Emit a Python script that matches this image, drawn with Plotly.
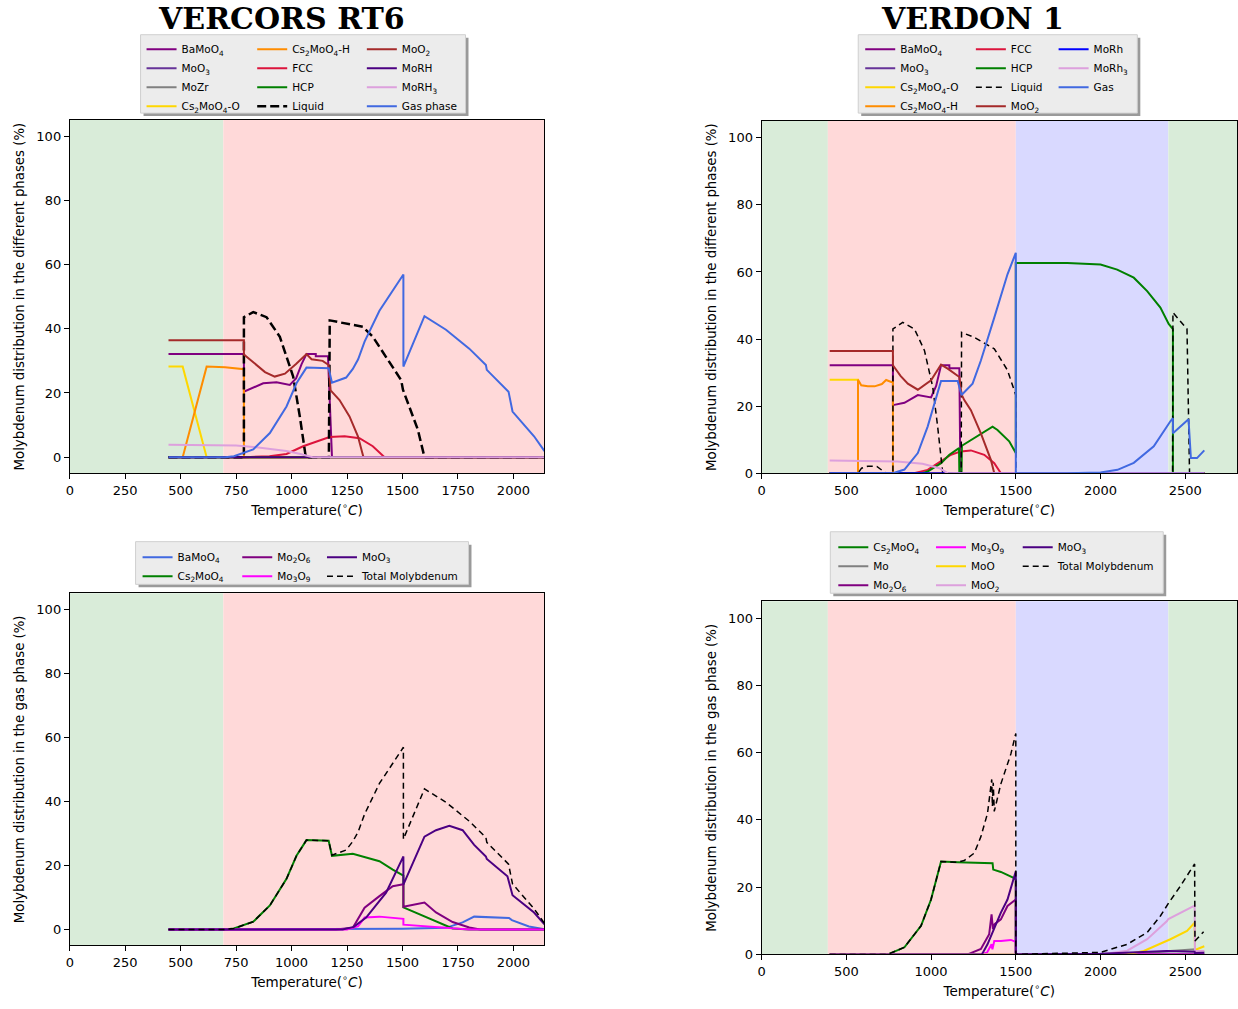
import plotly.graph_objects as go

W, H = 1238, 1009

# ---------------- VERCORS RT6 : phases ----------------
rt6_T_BaMoO4 = [445, 785, 785, 830, 872, 932, 992, 1020, 1045, 1067, 1109, 1109, 1164, 1182, 2140]
rt6_BaMoO4 = [32.1, 32.1, 20.4, 21.8, 23.0, 23.3, 22.5, 24.5, 29.0, 32.1, 32.1, 31.4, 31.4, 0, 0]
rt6_T_zero = [445, 2140]
rt6_MoO3 = [0, 0]
rt6_MoZr = [0, 0]
rt6_HCP = [0, 0]
rt6_MoRH = [0, 0]
rt6_T_Cs2MoO4_O = [445, 509, 617, 2140]
rt6_Cs2MoO4_O = [28.2, 28.2, 0, 0]
rt6_T_Cs2MoO4_H = [445, 509, 617, 700, 785, 785, 2140]
rt6_Cs2MoO4_H = [0, 0, 28.2, 28.0, 27.4, 0, 0]
rt6_T_FCC = [445, 785, 900, 977, 1052, 1120, 1171, 1239, 1306, 1366, 1419, 2140]
rt6_FCC = [0, 0, 0.3, 1.0, 3.4, 5.0, 6.3, 6.5, 5.9, 3.4, 0, 0]
rt6_T_Liquid = [445, 785, 785, 827, 887, 947, 1007, 1037, 1064, 1168, 1172, 1250, 1321, 1366, 1426,
                1494, 1502, 1531, 1569, 1599, 2140]
rt6_Liquid = [0, 0, 43.6, 45.2, 43.6, 37.5, 25.1, 12.7, 0, 0, 42.6, 41.5, 40.6, 37.5, 31.3,
              24.0, 21.0, 15.8, 8.6, 0, 0]
rt6_T_MoO2 = [445, 785, 785, 830, 880, 924, 970, 1020, 1067, 1090, 1140, 1167, 1176, 1216, 1261,
              1299, 1324, 2140]
rt6_MoO2 = [36.4, 36.4, 32.0, 29.5, 26.5, 25.1, 26.0, 29.0, 32.1, 30.5, 30.0, 28.7, 20.8, 17.8, 12.7,
            6.5, 0, 0]
rt6_T_MoRH3 = [445, 600, 750, 850, 977, 1040, 1095, 2140]
rt6_MoRH3 = [3.9, 3.85, 3.6, 3.0, 1.9, 1.0, 0, 0]
rt6_T_Gas = [445, 700, 740, 827, 902, 977, 1022, 1067, 1167, 1182, 1246, 1276, 1300, 1329, 1396, 1456,
             1504, 1504, 1599, 1696, 1801, 1876, 1880, 1978, 1996, 2093, 2140]
rt6_Gas = [0, 0, 0.3, 2.4, 7.5, 15.8, 23.0, 27.9, 27.7, 23.2, 24.8, 27.5, 30.5, 36.0, 45.6, 52.0,
           56.9, 28.2, 43.9, 39.7, 33.8, 28.7, 27.2, 20.4, 14.2, 6.5, 1.9]

# ---------------- VERCORS RT6 : gas phase ----------------
rt6g_T_BaMoO4 = [445, 1300, 1500, 1696, 1771, 1823, 1980, 1993, 2070, 2140]
rt6g_BaMoO4 = [0, 0, 0.2, 0.5, 2.2, 4.0, 3.6, 2.9, 0.9, 0.1]
rt6g_T_Cs2MoO4 = [445, 700, 740, 827, 902, 977, 1022, 1067, 1167, 1182, 1276, 1396, 1456, 1504, 1504,
                  1576, 1651, 1726, 1800, 2140]
rt6g_Cs2MoO4 = [0, 0, 0.3, 2.4, 7.5, 15.8, 23.0, 27.9, 27.7, 23.0, 23.6, 21.3, 18.7, 16.8, 6.9,
                4.7, 2.4, 0.3, 0, 0]
rt6g_T_Mo2O6 = [445, 1200, 1276, 1329, 1396, 1456, 1504, 1504, 1599, 1651, 1726, 1801, 1850, 2140]
rt6g_Mo2O6 = [0, 0, 0.5, 6.8, 10.4, 13.5, 14.1, 7.1, 8.4, 5.3, 2.3, 0.6, 0, 0]
rt6g_T_Mo3O9 = [445, 1250, 1300, 1329, 1396, 1456, 1504, 1504, 1600, 1726, 1800, 2140]
rt6g_Mo3O9 = [0, 0, 1.0, 3.7, 4.0, 3.7, 3.3, 1.5, 1.0, 0.3, 0, 0]
rt6g_T_MoO3 = [445, 1230, 1280, 1336, 1426, 1504, 1504, 1599, 1651, 1711, 1771, 1823, 1876, 1880,
               1973, 1996, 2093, 2140]
rt6g_MoO3 = [0, 0, 0.8, 3.7, 11.5, 22.8, 14.0, 29.0, 31.0, 32.4, 31.0, 26.4, 22.8, 22.0,
             16.6, 10.7, 5.3, 1.6]

# ---------------- VERDON 1 : phases ----------------
vd_T_BaMoO4 = [402, 775, 775, 843, 922, 1000, 1030, 1059, 1108, 1108, 1167, 1173, 2612]
vd_BaMoO4 = [32.2, 32.2, 20.3, 21.0, 23.3, 22.6, 26.0, 32.2, 32.2, 31.3, 31.3, 0, 0]
vd_T_zero = [402, 2612]
vd_MoO3 = [0, 0]
vd_MoRh = [0, 0]
vd_T_Cs2MoO4_O = [402, 569, 569, 2612]
vd_Cs2MoO4_O = [27.9, 27.9, 0, 0]
vd_T_Cs2MoO4_H = [402, 569, 569, 588, 627, 667, 710, 735, 765, 775, 775, 2612]
vd_Cs2MoO4_H = [0, 0, 27.9, 26.2, 25.9, 25.9, 26.6, 27.8, 27.2, 27.2, 0, 0]
vd_T_FCC = [402, 900, 980, 1039, 1118, 1176, 1235, 1314, 1373, 1412, 2612]
vd_FCC = [0, 0, 1.0, 3.0, 5.5, 6.5, 6.8, 5.5, 3.0, 0, 0]
vd_T_HCP = [402, 950, 980, 1059, 1108, 1165, 1167, 1180, 1182, 1255, 1363, 1392, 1461, 1500, 1500,
            1510, 1804, 2000, 2098, 2196, 2275, 2353, 2402, 2427, 2427, 2612]
vd_HCP = [0, 0, 0.5, 3.0, 5.5, 7.5, 0, 0, 8.2, 10.5, 13.9, 12.9, 9.5, 6.0, 62.7,
          62.7, 62.7, 62.2, 60.7, 58.3, 54.3, 49.4, 44.5, 43.0, 0, 0]
vd_T_Liquid = [402, 569, 590, 627, 680, 735, 775, 775, 833, 902, 961, 1010, 1039, 1059, 1069, 1178,
               1180, 1255, 1373, 1451, 1500, 1500, 2425, 2427, 2510, 2525, 2612]
vd_Liquid = [0, 0, 1.5, 2.1, 2.0, 0, 0, 43.0, 45.0, 43.0, 36.6, 25.7, 13.9, 4.0, 0, 0,
             42.0, 40.5, 37.1, 30.7, 23.3, 0, 0, 47.9, 43.0, 0, 0]
vd_T_MoO2 = [402, 775, 775, 820, 863, 922, 1000, 1059, 1098, 1167, 1180, 1196, 1235, 1294, 1353, 1373, 2612]
vd_MoO2 = [36.4, 36.4, 32.2, 29.0, 26.7, 24.9, 27.7, 32.4, 31.2, 28.7, 23.5, 21.8, 18.8, 11.9, 4.0, 0, 0]
vd_T_MoRh3 = [402, 600, 800, 950, 1050, 1098, 2612]
vd_MoRh3 = [3.8, 3.75, 3.5, 2.8, 1.5, 0, 0]
vd_T_Gas = [402, 775, 843, 922, 980, 1020, 1059, 1157, 1180, 1245, 1294, 1373, 1451, 1500, 1500,
            1800, 2000, 2100, 2196, 2314, 2402, 2412, 2427, 2427, 2519, 2533, 2569, 2612]
vd_Gas = [0, 0, 1.1, 6.0, 13.9, 20.8, 27.5, 27.5, 23.3, 26.7, 33.6, 46.4, 59.3, 65.7, 0,
          0, 0.2, 1.0, 3.1, 8.0, 14.9, 15.5, 16.4, 11.9, 16.1, 4.5, 4.5, 6.8]

# ---------------- VERDON 1 : gas phase ----------------
vdg_T_Cs2MoO4 = [402, 745, 843, 941, 1000, 1059, 1157, 1363, 1367, 1412, 1490, 1500, 1500, 2612]
vdg_Cs2MoO4 = [0, 0, 2.1, 8.5, 16.3, 27.6, 27.4, 27.1, 25.2, 24.5, 22.7, 22.2, 0, 0]
vdg_T_Mo = [402, 2200, 2412, 2555, 2557, 2612]
vdg_Mo = [0, 0, 1.0, 1.5, 0.6, 0.8]
vdg_T_Mo2O6 = [402, 1216, 1294, 1343, 1357, 1365, 1375, 1412, 1451, 1500, 1500, 2612]
vdg_Mo2O6 = [0, 0, 1.6, 6.0, 11.9, 7.5, 9.0, 10.4, 14.4, 16.3, 0, 0]
vdg_T_Mo3O9 = [402, 1280, 1330, 1357, 1362, 1373, 1412, 1471, 1500, 1500, 2612]
vdg_Mo3O9 = [0, 0, 0.5, 3.0, 1.5, 4.0, 4.0, 4.3, 3.7, 0, 0]
vdg_T_MoO = [402, 2150, 2255, 2412, 2510, 2555, 2557, 2612]
vdg_MoO = [0, 0, 1.0, 4.5, 7.0, 9.4, 1.3, 2.4]
vdg_T_MoO2 = [402, 2000, 2157, 2275, 2392, 2400, 2555, 2557, 2612]
vdg_MoO2 = [0, 0, 1.1, 4.5, 9.9, 10.5, 14.5, 1.0, 1.0]
vdg_T_MoO3 = [402, 1300, 1333, 1363, 1412, 1451, 1500, 1500, 2000, 2392, 2555, 2557, 2612]
vdg_MoO3 = [0, 0, 3.0, 6.5, 12.4, 16.3, 24.7, 0, 0.2, 1.0, 0.8, 0.4, 0.5]
vdg_T_Total = [402, 745, 843, 941, 1000, 1059, 1157, 1196, 1255, 1294, 1333, 1350, 1358, 1362, 1367,
               1373, 1412, 1471, 1500, 1500, 2000, 2157, 2275, 2353, 2402, 2471, 2555, 2557, 2608]
vdg_Total = [0, 0, 2.1, 8.5, 16.3, 27.6, 27.4, 27.9, 30.1, 35.0, 41.9, 48.0, 52.0, 44.0, 51.0,
             42.5, 50.7, 59.6, 65.7, 0, 0.6, 3.0, 6.5, 11.4, 15.3, 20.3, 26.9, 4.0, 6.7]

# Temperature domains shown as background bands
rt6_bands = [(0, 692, 'green'), (692, 2140, 'red')]
vd_bands = [(0, 391, 'green'), (391, 1500, 'red'), (1500, 2400, 'blue'), (2400, 2810, 'green')]
band_colors = {'green': 'rgb(217,236,217)', 'red': 'rgb(255,217,217)', 'blue': 'rgb(217,217,255)'}

C = dict(purple='#800080', rebecca='#663399', grey='#808080', gold='#FFD700', orange='#FF8C00',
         crimson='#DC143C', green='#008000', black='black', brown='#A52A2A', indigo='#4B0082',
         plum='#DDA0DD', royal='#4169E1', blue='#0000FF', magenta='#FF00FF')

fig = go.Figure()

def add(x, y, name, color, ax, leg, dash=None, width=2):
    line = dict(color=color, width=width)
    if dash:
        line['dash'] = dash
    fig.add_trace(go.Scatter(x=x, y=y, mode='lines', name=name, line=line,
                             xaxis='x' + ax, yaxis='y' + ax, legend=leg, hoverinfo='skip'))

# Top-left
add(rt6_T_BaMoO4, rt6_BaMoO4, 'BaMoO<sub>4</sub>', C['purple'], '', 'legend')
add(rt6_T_zero, rt6_MoO3, 'MoO<sub>3</sub>', C['rebecca'], '', 'legend')
add(rt6_T_zero, rt6_MoZr, 'MoZr', C['grey'], '', 'legend')
add(rt6_T_Cs2MoO4_O, rt6_Cs2MoO4_O, 'Cs<sub>2</sub>MoO<sub>4</sub>-O', C['gold'], '', 'legend')
add(rt6_T_Cs2MoO4_H, rt6_Cs2MoO4_H, 'Cs<sub>2</sub>MoO<sub>4</sub>-H', C['orange'], '', 'legend2')
add(rt6_T_FCC, rt6_FCC, 'FCC', C['crimson'], '', 'legend2')
add(rt6_T_zero, rt6_HCP, 'HCP', C['green'], '', 'legend2')
add(rt6_T_Liquid, rt6_Liquid, 'Liquid', C['black'], '', 'legend2', dash='9px,4px', width=2.5)
add(rt6_T_MoO2, rt6_MoO2, 'MoO<sub>2</sub>', C['brown'], '', 'legend3')
add(rt6_T_zero, rt6_MoRH, 'MoRH', C['indigo'], '', 'legend3')
add(rt6_T_MoRH3, rt6_MoRH3, 'MoRH<sub>3</sub>', C['plum'], '', 'legend3')
add(rt6_T_Gas, rt6_Gas, 'Gas phase', C['royal'], '', 'legend3')

# Top-right
add(vd_T_BaMoO4, vd_BaMoO4, 'BaMoO<sub>4</sub>', C['purple'], '2', 'legend4')
add(vd_T_zero, vd_MoO3, 'MoO<sub>3</sub>', C['rebecca'], '2', 'legend4')
add(vd_T_Cs2MoO4_O, vd_Cs2MoO4_O, 'Cs<sub>2</sub>MoO<sub>4</sub>-O', C['gold'], '2', 'legend4')
add(vd_T_Cs2MoO4_H, vd_Cs2MoO4_H, 'Cs<sub>2</sub>MoO<sub>4</sub>-H', C['orange'], '2', 'legend4')
add(vd_T_FCC, vd_FCC, 'FCC', C['crimson'], '2', 'legend5')
add(vd_T_HCP, vd_HCP, 'HCP', C['green'], '2', 'legend5')
add(vd_T_Liquid, vd_Liquid, 'Liquid', C['black'], '2', 'legend5', dash='6px,4px', width=1.5)
add(vd_T_MoO2, vd_MoO2, 'MoO<sub>2</sub>', C['brown'], '2', 'legend5')
add(vd_T_zero, vd_MoRh, 'MoRh', C['blue'], '2', 'legend6')
add(vd_T_MoRh3, vd_MoRh3, 'MoRh<sub>3</sub>', C['plum'], '2', 'legend6')
add(vd_T_Gas, vd_Gas, 'Gas', C['royal'], '2', 'legend6')

# Bottom-left
add(rt6g_T_BaMoO4, rt6g_BaMoO4, 'BaMoO<sub>4</sub>', C['royal'], '3', 'legend7')
add(rt6g_T_Cs2MoO4, rt6g_Cs2MoO4, 'Cs<sub>2</sub>MoO<sub>4</sub>', C['green'], '3', 'legend7')
add(rt6g_T_Mo2O6, rt6g_Mo2O6, 'Mo<sub>2</sub>O<sub>6</sub>', C['purple'], '3', 'legend8')
add(rt6g_T_Mo3O9, rt6g_Mo3O9, 'Mo<sub>3</sub>O<sub>9</sub>', C['magenta'], '3', 'legend8')
add(rt6g_T_MoO3, rt6g_MoO3, 'MoO<sub>3</sub>', C['indigo'], '3', 'legend9')
add(rt6_T_Gas, rt6_Gas, 'Total Molybdenum', C['black'], '3', 'legend9', dash='6px,4px', width=1.5)

# Bottom-right
add(vdg_T_Cs2MoO4, vdg_Cs2MoO4, 'Cs<sub>2</sub>MoO<sub>4</sub>', C['green'], '4', 'legend10')
add(vdg_T_Mo, vdg_Mo, 'Mo', C['grey'], '4', 'legend10')
add(vdg_T_Mo2O6, vdg_Mo2O6, 'Mo<sub>2</sub>O<sub>6</sub>', C['purple'], '4', 'legend10')
add(vdg_T_Mo3O9, vdg_Mo3O9, 'Mo<sub>3</sub>O<sub>9</sub>', C['magenta'], '4', 'legend11')
add(vdg_T_MoO, vdg_MoO, 'MoO', C['gold'], '4', 'legend11')
add(vdg_T_MoO2, vdg_MoO2, 'MoO<sub>2</sub>', C['plum'], '4', 'legend11')
add(vdg_T_MoO3, vdg_MoO3, 'MoO<sub>3</sub>', C['indigo'], '4', 'legend12')
add(vdg_T_Total, vdg_Total, 'Total Molybdenum', C['black'], '4', 'legend12', dash='6px,4px', width=1.5)

FONT = 'DejaVu Sans'
tickfont = dict(family=FONT, size=13, color='black')
xtitle = 'Temperature(<sup>∘</sup><i>C</i>)'

def px_x(p):
    return p / W

def px_y(p):
    return 1 - p / H

def xaxis(dom, rng, dtick, anchor):
    return dict(domain=[px_x(dom[0]), px_x(dom[1])], range=rng, dtick=dtick, tick0=0, anchor=anchor,
                showline=True, mirror=True, linecolor='black', linewidth=1, ticks='outside', ticklen=5,
                tickcolor='black', showgrid=False, zeroline=False, tickfont=tickfont,
                title=dict(text=xtitle, font=dict(family=FONT, size=13.5, color='black'), standoff=8))

def yaxis(dom, rng, anchor, title):
    return dict(domain=[px_y(dom[1]), px_y(dom[0])], range=rng, dtick=20, tick0=0, anchor=anchor,
                showline=True, mirror=True, linecolor='black', linewidth=1, ticks='outside', ticklen=5,
                tickcolor='black', showgrid=False, zeroline=False, tickfont=tickfont,
                title=dict(text=title, font=dict(family=FONT, size=13.3, color='black'), standoff=8))

yt_ph = 'Molybdenum distribution in the different phases (%)'
yt_gas = 'Molybdenum distribution in the gas phase (%)'

layout = dict(
    width=W, height=H, margin=dict(l=0, r=0, t=0, b=0),
    paper_bgcolor='white', plot_bgcolor='white', showlegend=True,
    xaxis=xaxis((66, 542), [0, 2139], 250, 'y'),
    yaxis=yaxis((121, 477), [-5, 105], 'x', yt_ph),
    xaxis2=xaxis((760, 1237), [0, 2805], 500, 'y2'),
    yaxis2=yaxis((122, 477), [0, 105], 'x2', yt_ph),
    xaxis3=xaxis((66, 542), [0, 2139], 250, 'y3'),
    yaxis3=yaxis((598, 953), [-5, 105], 'x3', yt_gas),
    xaxis4=xaxis((760, 1237), [0, 2805], 500, 'y4'),
    yaxis4=yaxis((606, 962), [0, 105], 'x4', yt_gas),
)

# legends (one per column)
leg_pos = {
    'legend': (138, 35), 'legend2': (249, 35), 'legend3': (359, 35),
    'legend4': (859, 35), 'legend5': (970, 35), 'legend6': (1053, 35),
    'legend7': (134, 547), 'legend8': (234, 547), 'legend9': (319, 547),
    'legend10': (832, 537), 'legend11': (930, 537), 'legend12': (1017, 537),
}
for k, (lx, ly) in leg_pos.items():
    layout[k] = dict(x=px_x(lx), y=px_y(ly), xanchor='left', yanchor='top',
                     bgcolor='rgba(0,0,0,0)', borderwidth=0, itemwidth=30, tracegroupgap=0,
                     font=dict(family=FONT, size=10.5, color='black'))

shapes = []
for ax, bands in (('', rt6_bands), ('2', vd_bands), ('3', rt6_bands), ('4', vd_bands)):
    for x0, x1, c in bands:
        shapes.append(dict(type='rect', xref='x' + ax, yref='y' + ax + ' domain', x0=x0, x1=x1, y0=0, y1=1,
                           fillcolor=band_colors[c], line=dict(width=0), layer='below'))

# legend frames with shadow
for (x0, y0, x1, y1) in [(137, 35, 463, 114), (857, 35, 1137, 114), (132, 546, 466, 589), (829, 536, 1163, 598)]:
    shapes.append(dict(type='rect', xref='paper', yref='paper', x0=px_x(x0 + 3), x1=px_x(x1 + 3),
                       y0=px_y(y1 + 3), y1=px_y(y0 + 3), fillcolor='#9a9a9a', line=dict(width=0), layer='above'))
    shapes.append(dict(type='rect', xref='paper', yref='paper', x0=px_x(x0), x1=px_x(x1),
                       y0=px_y(y1), y1=px_y(y0), fillcolor='#ececec', line=dict(color='#cfcfcf', width=1),
                       layer='above'))
layout['shapes'] = shapes

layout['annotations'] = [
    dict(text='<b>VERCORS RT6</b>', x=px_x(278), y=px_y(19), xref='paper', yref='paper', showarrow=False,
         xanchor='center', yanchor='middle', font=dict(family='DejaVu Serif', size=30, color='black')),
    dict(text='<b>VERDON 1</b>', x=px_x(972), y=px_y(19), xref='paper', yref='paper', showarrow=False,
         xanchor='center', yanchor='middle', font=dict(family='DejaVu Serif', size=30, color='black')),
]

fig.update_layout(**layout)
fig.write_html('out.html')
